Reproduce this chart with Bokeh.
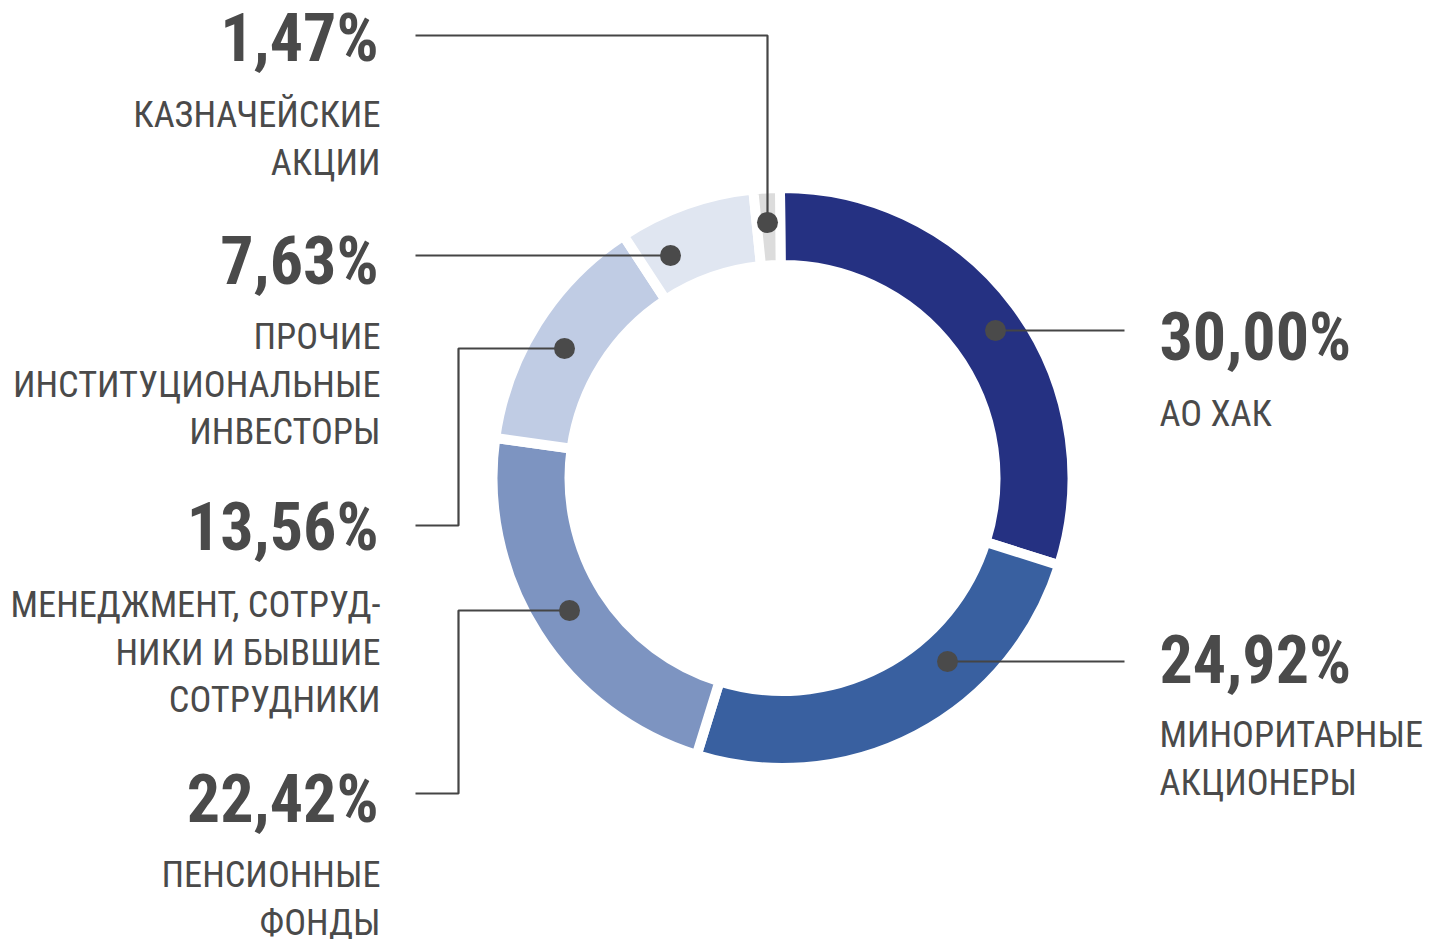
import numpy as np
from bokeh.plotting import figure
from bokeh.embed import file_html
from bokeh.resources import INLINE
from bokeh.core.properties import value
from bokeh.models import Range1d, ColumnDataSource

# ---- data ----
categories = ["АО ХАК", "МИНОРИТАРНЫЕ\nАКЦИОНЕРЫ", "ПЕНСИОННЫЕ\nФОНДЫ",
              "МЕНЕДЖМЕНТ, СОТРУД-\nНИКИ И БЫВШИЕ\nСОТРУДНИКИ",
              "ПРОЧИЕ\nИНСТИТУЦИОНАЛЬНЫЕ\nИНВЕСТОРЫ", "КАЗНАЧЕЙСКИЕ\nАКЦИИ"]
shares = [30.00, 24.92, 22.42, 13.56, 7.63, 1.47]
share_labels = ["30,00%", "24,92%", "22,42%", "13,56%", "7,63%", "1,47%"]
colors = ["#253182", "#3960a0", "#7d94c1", "#c0cce4", "#e0e6f1", "#dcdcdc"]

# ---- layout (image pixel coordinates) ----
CX, CY = 782, 477.5
R_OUT, R_IN = 290, 213
GAP = 10
START_OFFSET = -0.5  # degrees, clockwise from 12 o'clock
TEXT = "#4a4a4a"
FONT = value("Roboto Condensed")
PCT_SHIFT = 24   # renderer baseline correction (px)
CAT_SHIFT = 12

# label anchors: (x, align, percent baseline, first category baseline)
label_pos = [
    (1159, "left", 361, 425),
    (1159, "left", 684, 746),
    (378, "right", 823, 886),
    (378, "right", 551, 616),
    (378, "right", 285, 348),
    (378, "right", 62, 126),
]
LINE_H = 47.5

leaders = [
    [(995, 330), (1124, 330)],
    [(947, 661), (1124, 661)],
    [(569, 610), (458, 610), (458, 793), (415, 793)],
    [(564, 348), (458, 348), (458, 525), (415, 525)],
    [(670, 255), (415, 255)],
    [(767, 222), (767, 35), (415, 35)],
]

W, H = 1440, 939
p = figure(width=W, height=H, output_backend="svg", toolbar_location=None,
           x_range=Range1d(0, W), y_range=Range1d(-H, 0), min_border=0)
p.axis.visible = False
p.grid.visible = False
p.outline_line_color = None
p.background_fill_color = "white"
p.border_fill_color = "white"

# wedges
vals = np.array(shares)
cum = np.concatenate([[0], np.cumsum(vals)]) / vals.sum() * 360.0
theta_start = cum[:-1] + START_OFFSET
theta_end = cum[1:] + START_OFFSET
src = ColumnDataSource(dict(
    x=[CX] * len(vals), y=[-CY] * len(vals),
    start=np.radians(90 - theta_end), end=np.radians(90 - theta_start),
    color=colors,
))
p.annular_wedge(x="x", y="y", inner_radius=R_IN, outer_radius=R_OUT,
                start_angle="start", end_angle="end", source=src,
                fill_color="color", line_color="white", line_width=GAP,
                line_join="miter")

# leaders and dots
for pts in leaders:
    xs = [q[0] for q in pts]
    ys = [-q[1] for q in pts]
    p.line(xs, ys, line_color="#454545", line_width=2.2)
p.scatter([pts[0][0] for pts in leaders], [-pts[0][1] for pts in leaders],
          size=21, fill_color=TEXT, line_color=None)

# labels
for cat, lab, (lx, align, pb, cb) in zip(categories, share_labels, label_pos):
    p.text([lx], [-(pb - PCT_SHIFT)], text=[lab], text_font=FONT, text_font_size="66px",
           text_font_style="bold", text_color=TEXT, text_align=align,
           text_baseline="alphabetic")
    cx = lx + (2 if align == "right" else 0)
    for k, line in enumerate(cat.split("\n")):
        p.text([cx], [-(cb - CAT_SHIFT + k * LINE_H)], text=[line], text_font=FONT,
               text_font_size="36.4px", text_color=TEXT, text_align=align,
               text_baseline="alphabetic")

open("out.html", "w").write(file_html(p, INLINE))
